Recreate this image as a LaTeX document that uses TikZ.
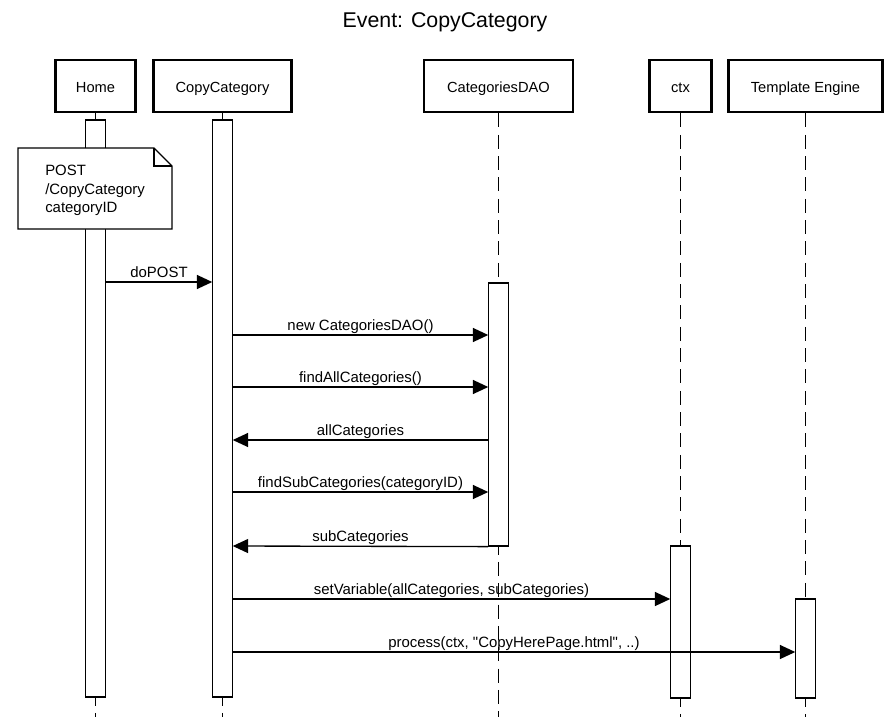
\documentclass[tikz,border=0pt]{standalone}
\usepackage{fontspec}
\setmainfont{Liberation Sans}
\usetikzlibrary{arrows.meta}
\begin{document}
\begin{tikzpicture}[x=0.75pt,y=-0.75pt,
 head/.style={draw,line width=2.2pt,minimum height=39pt,font=\fontsize{11}{13}\selectfont,text height=10pt,text depth=0pt},
 act/.style={draw,fill=white,line width=0.9pt,minimum width=14.5pt},
 life/.style={line width=1.2pt,dash pattern=on 10.5pt off 5.5pt},
 lifeend/.style={life,dash phase=4.5pt},
 msg/.style={line width=1pt,-{Triangle[length=11.5pt,width=10.5pt]}},
 lbl/.style={anchor=base,yshift=3.5pt,font=\fontsize{11.2}{13}\selectfont}]
 \useasboundingbox (0,0) rectangle (891,717);
 \node [anchor=base,font=\fontsize{16}{19}\selectfont] (title) at (445,27.5) {Event: CopyCategory};
 \node [head,minimum width=60pt] (home) at (95.5,86) {Home};
 \node [head,minimum width=103.5pt] (cc) at (222.5,86) {CopyCategory};
 \node [head,minimum width=111.75pt] (dao) at (498.5,86) {CategoriesDAO};
 \node [head,minimum width=46.5pt] (ctx) at (680.5,86) {ctx};
 \node [head,minimum width=115.5pt] (te) at (805.5,86) {Template Engine};
 \coordinate (bot) at (0,717);
 \node [act,minimum height=432.75pt] (homeA) at (95.5,408.5) {};
 \node [act,minimum height=432.75pt] (ccA) at (222.5,408.5) {};
 \node [act,minimum height=197.25pt] (daoA) at (498.5,414.5) {};
 \node [act,minimum height=114pt] (ctxA) at (680.5,622) {};
 \node [act,minimum height=74.25pt] (teA) at (805.5,648.5) {};
 \draw [life] (home.south) -- (homeA.north);
 \draw [life] (cc.south) -- (ccA.north);
 \draw [life] (dao.south) -- (daoA.north);
 \draw [life] (ctx.south) -- (ctxA.north);
 \draw [life] (te.south) -- (teA.north);
 \draw [lifeend] (homeA.south) -- (homeA.south |- bot);
 \draw [lifeend] (ccA.south) -- (ccA.south |- bot);
 \draw [lifeend] (daoA.south) -- (daoA.south |- bot);
 \draw [lifeend] (ctxA.south) -- (ctxA.south |- bot);
 \draw [lifeend] (teA.south) -- (teA.south |- bot);
 \draw [line width=0.9pt,fill=white] (18,148) -- (154,148) -- (172,166) -- (172,229) -- (18,229) -- cycle;
 \draw [line width=0.9pt] (154,148) -- (154,166) -- (172,166);
 \node [anchor=west,align=left,inner sep=0pt,font=\fontsize{11.2}{13.9}\selectfont] (note) at (45,190.5) {POST\\/CopyCategory\\categoryID};
 \coordinate (r1) at (0,282);
 \coordinate (r2) at (0,335);
 \coordinate (r3) at (0,387);
 \coordinate (r4) at (0,440);
 \coordinate (r5) at (0,492);
 \coordinate (r6) at (0,546);
 \coordinate (r7) at (0,599);
 \coordinate (r8) at (0,652);
 \draw [msg] (homeA.east |- r1) -- node [lbl] {doPOST} (ccA.west |- r1);
 \draw [msg] (ccA.east |- r2) -- node [lbl] {new CategoriesDAO()} (daoA.west |- r2);
 \draw [msg] (ccA.east |- r3) -- node [lbl] {findAllCategories()} (daoA.west |- r3);
 \draw [msg] (daoA.west |- r4) -- node [lbl] {allCategories} (ccA.east |- r4);
 \draw [msg] (ccA.east |- r5) -- node [lbl] {findSubCategories(categoryID)} (daoA.west |- r5);
 \draw [msg] (daoA.south west) -- node [lbl] {subCategories} (ccA.east |- r6);
 \draw [msg] (ccA.east |- r7) -- node [lbl] {setVariable(allCategories, subCategories)} (ctxA.west |- r7);
 \draw [msg] (ccA.east |- r8) -- node [lbl] {process(ctx, \textquotedbl CopyHerePage.html\textquotedbl, ..)} (teA.west |- r8);
\end{tikzpicture}
\end{document}
